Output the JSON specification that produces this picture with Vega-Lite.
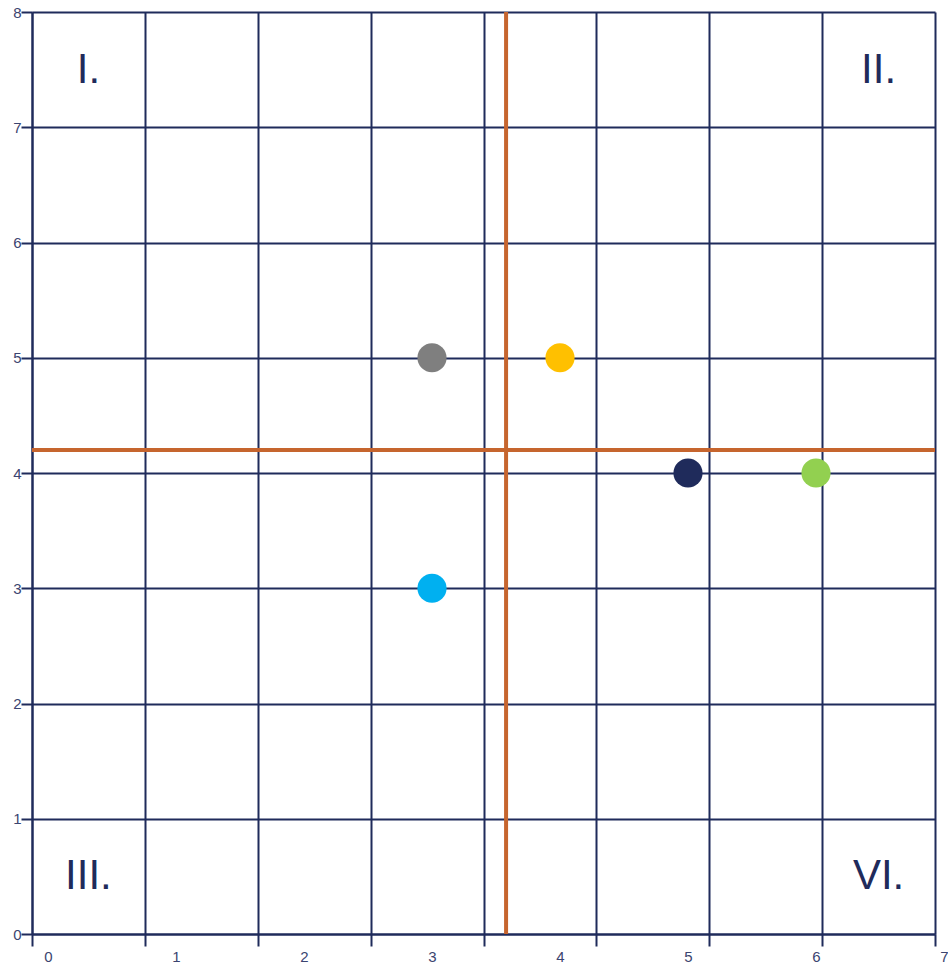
{
  "$schema": "https://vega.github.io/schema/vega-lite/v6.json",
  "width": 903,
  "height": 922,
  "autosize": "none",
  "padding": {"left": 32, "top": 12, "right": 13, "bottom": 33},
  "background": "white",
  "config": {"view": {"stroke": null}, "font": "Liberation Sans"},
  "datasets": {
    "pts": [
      {"x": 3, "y": 5, "c": "gray"},
      {"x": 4, "y": 5, "c": "yellow"},
      {"x": 5, "y": 4, "c": "navy"},
      {"x": 6, "y": 4, "c": "green"},
      {"x": 3, "y": 3, "c": "cyan"}
    ],
    "quad": [
      {"label": "I.", "gx": 0.5, "gy": 7.5},
      {"label": "II.", "gx": 7.5, "gy": 7.5},
      {"label": "III.", "gx": 0.5, "gy": 0.5},
      {"label": "VI.", "gx": 7.5, "gy": 0.5}
    ],
    "means": [{"mx": 4.2, "my": 4.2}]
  },
  "layer": [
    {
      "layer": [
        {
          "data": {"name": "means"},
          "mark": {"type": "rule", "color": "#C6652E", "strokeWidth": 4},
          "encoding": {
            "x": {
              "field": "mx", "type": "quantitative",
              "scale": {"domain": [0, 8], "nice": false, "zero": false},
              "axis": {
                "orient": "bottom", "values": [0, 1, 2, 3, 4, 5, 6, 7, 8],
                "grid": true, "gridColor": "#1F2B5B", "gridWidth": 2, "gridOpacity": 1,
                "labels": false, "ticks": true, "tickSize": 12, "tickColor": "#1F2B5B", "tickWidth": 2,
                "domain": true, "domainColor": "#1F2B5B", "domainWidth": 2, "title": null
              }
            }
          }
        },
        {
          "data": {"name": "means"},
          "mark": {"type": "rule", "color": "#C6652E", "strokeWidth": 4},
          "encoding": {
            "y": {
              "field": "my", "type": "quantitative",
              "scale": {"domain": [0, 8], "nice": false, "zero": false},
              "axis": {
                "values": [0, 1, 2, 3, 4, 5, 6, 7, 8], "format": "d", "labelFlush": false,
                "grid": true, "gridColor": "#1F2B5B", "gridWidth": 2, "gridOpacity": 1,
                "ticks": true, "tickSize": 11, "tickColor": "#1F2B5B", "tickWidth": 2,
                "domain": true, "domainColor": "#1F2B5B", "domainWidth": 2,
                "labelPadding": 0, "labelFontSize": 15, "labelColor": "#3B4470", "title": null
              }
            }
          }
        },
        {
          "data": {"name": "quad"},
          "mark": {"type": "text", "fontSize": 42, "color": "#1F2B5B", "align": "center", "baseline": "middle"},
          "encoding": {
            "x": {"field": "gx", "type": "quantitative"},
            "y": {"field": "gy", "type": "quantitative"},
            "text": {"field": "label"}
          }
        }
      ]
    },
    {
      "data": {"name": "pts"},
      "mark": {"type": "circle", "size": 850, "opacity": 1},
      "encoding": {
        "x": {
          "field": "x", "type": "quantitative",
          "scale": {"domain": [0, 7], "range": [16, 912], "nice": false, "zero": false},
          "axis": {
            "orient": "bottom", "values": [0, 1, 2, 3, 4, 5, 6, 7], "format": "d", "labelFlush": false,
            "grid": false, "ticks": false, "domain": false,
            "labelPadding": 15, "labelFontSize": 15, "labelColor": "#3B4470", "title": null
          }
        },
        "y": {"field": "y", "type": "quantitative"},
        "color": {
          "field": "c", "type": "nominal", "legend": null,
          "scale": {
            "domain": ["gray", "yellow", "navy", "green", "cyan"],
            "range": ["#7F7F7F", "#FFC000", "#1F2B5B", "#92D050", "#00B0F0"]
          }
        }
      }
    }
  ],
  "resolve": {"scale": {"x": "independent"}, "axis": {"x": "independent"}}
}
